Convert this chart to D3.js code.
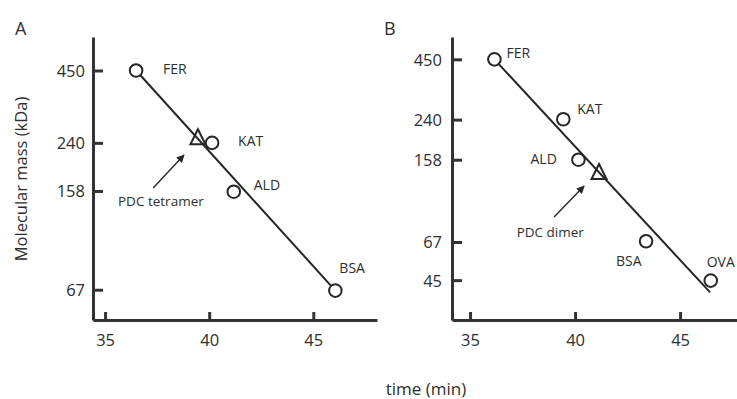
<!DOCTYPE html>
<html>
<head>
<meta charset="utf-8">
<script src="https://cdn.jsdelivr.net/npm/d3@7"></script>
<style>
  html, body { margin: 0; padding: 0; background: #fff; }
  svg { display: block; }
  text { font-family: "Open Sans", "DejaVu Sans", sans-serif; fill: #2e2e2e; }
</style>
</head>
<body>
<svg id="chart" width="737" height="399"></svg>
<script>
// ---------------- Data ----------------
const timeTicks = [35, 40, 45];
const massTicksA = [67, 158, 240, 450];
const massTicksB = [45, 67, 158, 240, 450];

// Panel A standards
const namesA = ["FER", "KAT", "ALD", "BSA"];
const timeA  = [36.49, 40.14, 41.18, 46.06];
const massA  = [450, 240, 157, 66.5];
// Panel A PDC (tetramer)
const pdcTimeA = [39.46];
const pdcMassA = [252];
// Panel A fitted line
const fitTimeA = [36.49, 46.06];
const fitMassA = [450, 66.5];

// Panel B standards
const namesB = ["FER", "KAT", "ALD", "BSA", "OVA"];
const timeB  = [36.16, 39.44, 40.16, 43.38, 46.46];
const massB  = [450, 241, 158, 67.5, 44.8];
// Panel B PDC (dimer)
const pdcTimeB = [41.14];
const pdcMassB = [139];
// Panel B fitted line
const fitTimeB = [36.16, 46.43];
const fitMassB = [450, 39.6];

// Annotation texts and arrow (data coords)
const pdcLabelA = "PDC tetramer";
const pdcLabelPosA = [35.62, 144.8];
const arrowA_time = [37.31, 38.79];
const arrowA_mass = [162.1, 216];
const pdcLabelB = "PDC dimer";
const pdcLabelPosB = [37.22, 74.1];
const arrowB_time = [39.0, 40.43];
const arrowB_mass = [87.0, 120.1];

// ---------------- Layout / style ----------------
const layoutA = { x0: 93, x1: 377, y0: 320, y1: 37, tDom: [34.42, 48.06], mDom: [51.5, 602], tickPadY: 8,
  letter: "A", letterX: 15, labelOff: [[27, -1.5, "start"], [26, -1.6, "start"], [20, -7, "start"], [4, -23, "start"]] };
const layoutB = { x0: 452, x1: 737, y0: 320, y1: 37, tDom: [34.14, 47.71], mDom: [29.7, 568], tickPadY: 10,
  letter: "B", letterX: 384, labelOff: [[12, -6, "start"], [14, -10.7, "start"], [-21.6, -1, "end"], [-30, 19.4, "start"], [-4, -19, "start"]] };

const svg = d3.select("#chart");
const ink = "#262626";

svg.append("defs").append("marker")
  .attr("id", "arrowhead")
  .attr("viewBox", "0 0 10 10")
  .attr("refX", 9).attr("refY", 5)
  .attr("markerUnits", "userSpaceOnUse")
  .attr("markerWidth", 9).attr("markerHeight", 8)
  .attr("orient", "auto")
  .append("path").attr("d", "M0,0 L10,5 L0,10 Z").attr("fill", ink);

function drawPanel(L, names, times, masses, pdcT, pdcM, fitT, fitM, massTicks, pdcLabel, pdcPos, arT, arM) {
  const x = d3.scaleLinear().domain(L.tDom).range([L.x0, L.x1]);
  const y = d3.scaleLog().domain(L.mDom).range([L.y0, L.y1]);
  const g = svg.append("g");

  // axes
  const xAxis = d3.axisBottom(x).tickValues(timeTicks).tickSize(-8).tickSizeOuter(0).tickPadding(17);
  const yAxis = d3.axisLeft(y).tickValues(massTicks).tickFormat(d3.format("d")).tickSize(-10).tickSizeOuter(0).tickPadding(L.tickPadY);

  const gx = g.append("g").attr("transform", `translate(0,${L.y0})`).call(xAxis);
  const gy = g.append("g").attr("transform", `translate(${L.x0},0)`).call(yAxis);
  [gx, gy].forEach(a => {
    a.select(".domain").attr("stroke", "#333").attr("stroke-width", 3);
    a.selectAll(".tick line").attr("stroke", "#333").attr("stroke-width", 3);
    a.selectAll(".tick text").attr("fill", "#2e2e2e").style("font-family", "'Open Sans', sans-serif").style("font-size", "16.5px");
  });
  gx.selectAll(".tick text").attr("dy", "0.71em").attr("y", 14);
  gy.selectAll(".tick text").attr("dy", "0.36em");

  // fitted line
  const fitPts = fitT.map((t, i) => [t, fitM[i]]);
  g.append("path")
    .attr("d", d3.line().x(d => x(d[0])).y(d => y(d[1]))(fitPts))
    .attr("fill", "none").attr("stroke", ink).attr("stroke-width", 2);

  // standards
  const pts = names.map((n, i) => ({ n, t: times[i], m: masses[i], off: L.labelOff[i] }));
  g.selectAll("circle.std").data(pts).join("circle")
    .attr("class", "std")
    .attr("cx", d => x(d.t)).attr("cy", d => y(d.m)).attr("r", 6.3)
    .attr("fill", "#fff").attr("stroke", ink).attr("stroke-width", 2);
  g.selectAll("text.std").data(pts).join("text")
    .attr("class", "std")
    .attr("x", d => x(d.t) + d.off[0]).attr("y", d => y(d.m) + d.off[1])
    .attr("dy", "0.36em").attr("text-anchor", d => d.off[2])
    .style("font-size", "14px").text(d => d.n);

  // PDC triangle
  pdcT.forEach((t, i) => {
    const cx = x(t), cy = y(pdcM[i]);
    g.append("path")
      .attr("d", `M${cx},${cy - 8} L${cx + 7.5},${cy + 7} L${cx - 7.5},${cy + 7} Z`)
      .attr("fill", "none").attr("stroke", ink).attr("stroke-width", 2).attr("stroke-linejoin", "miter");
  });

  // arrow + label
  g.append("line")
    .attr("x1", x(arT[0])).attr("y1", y(arM[0]))
    .attr("x2", x(arT[1])).attr("y2", y(arM[1]))
    .attr("stroke", ink).attr("stroke-width", 1.4).attr("marker-end", "url(#arrowhead)");
  g.append("text")
    .attr("x", x(pdcPos[0])).attr("y", y(pdcPos[1])).attr("dy", "0.36em")
    .style("font-size", "13.5px").text(pdcLabel);

  // panel letter
  svg.append("text").attr("x", L.letterX).attr("y", 35).style("font-size", "18px").text(L.letter);
}

drawPanel(layoutA, namesA, timeA, massA, pdcTimeA, pdcMassA, fitTimeA, fitMassA, massTicksA, pdcLabelA, pdcLabelPosA, arrowA_time, arrowA_mass);
drawPanel(layoutB, namesB, timeB, massB, pdcTimeB, pdcMassB, fitTimeB, fitMassB, massTicksB, pdcLabelB, pdcLabelPosB, arrowB_time, arrowB_mass);

// axis titles
svg.append("text")
  .attr("transform", "translate(27,179) rotate(-90)")
  .attr("text-anchor", "middle").style("font-size", "16.5px")
  .text("Molecular mass (kDa)");
svg.append("text")
  .attr("x", 426).attr("y", 395)
  .attr("text-anchor", "middle").style("font-size", "17px")
  .text("time (min)");
</script>
</body>
</html>
